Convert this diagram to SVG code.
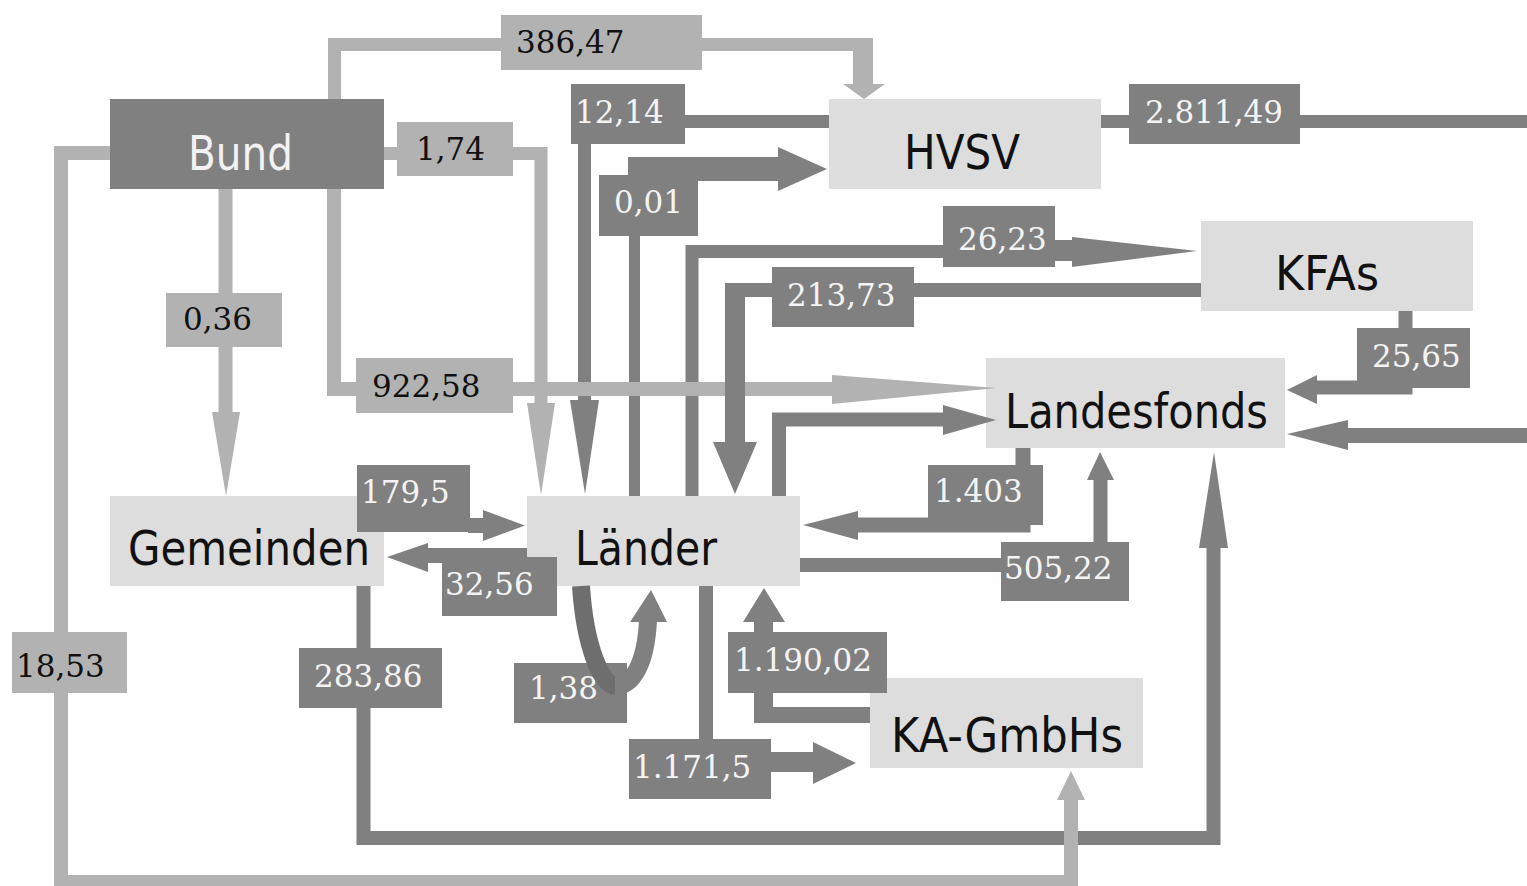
<svg xmlns="http://www.w3.org/2000/svg" width="1527" height="886" viewBox="0 0 1527 886">
<style>
.node{fill:#dddddd}
.bund{fill:#808080}
.nt{font-family:"DejaVu Sans",Verdana,sans-serif;font-size:48px;fill:#111111}
.bt{fill:#f2f2f2}
.d{stroke:#808080;fill:none;stroke-linejoin:miter;stroke-linecap:butt}
.l{stroke:#b2b2b2;fill:none;stroke-linejoin:miter;stroke-linecap:butt}
.df{fill:#808080}
.lf{fill:#b2b2b2}
.num{font-family:"DejaVu Serif",Georgia,serif;font-size:31px}
.w{fill:#f4f4f4}
.k{fill:#111111}
</style>
<rect width="1527" height="886" fill="#ffffff"/>
<g id="nodes">
  <g id="bund"><rect class="bund" x="110" y="99" width="274" height="90"/><text class="nt bt" x="188" y="170" textLength="105" lengthAdjust="spacingAndGlyphs">Bund</text></g>
  <g id="hvsv"><rect class="node" x="829" y="99" width="272" height="90"/><text class="nt" x="904" y="169" textLength="116" lengthAdjust="spacingAndGlyphs">HVSV</text></g>
  <g id="kfas"><rect class="node" x="1201" y="221" width="272" height="90"/><text class="nt" x="1275" y="290" textLength="104" lengthAdjust="spacingAndGlyphs">KFAs</text></g>
  <g id="landesfonds"><rect class="node" x="986" y="358" width="299" height="90"/><text class="nt" x="1005" y="428" textLength="263" lengthAdjust="spacingAndGlyphs">Landesfonds</text></g>
  <g id="gemeinden"><rect class="node" x="110" y="496" width="274" height="90"/><text class="nt" x="128" y="565" textLength="242" lengthAdjust="spacingAndGlyphs">Gemeinden</text></g>
  <g id="laender"><rect class="node" x="527" y="496" width="273" height="90"/><text class="nt" x="575" y="565" textLength="142" lengthAdjust="spacingAndGlyphs">Länder</text></g>
  <g id="kagmbhs"><rect class="node" x="870" y="678" width="273" height="90"/><text class="nt" x="891" y="752" textLength="232" lengthAdjust="spacingAndGlyphs">KA-GmbHs</text></g>
</g>
<g id="connectors">
  <g id="e-12-14">
    <path class="d" stroke-width="13" d="M829 121.5 H584.5 V402"/>
    <polygon class="df" points="570,400 599,400 585,494"/>
    <rect class="df" x="571" y="84" width="114" height="60"/>
    <text class="num w" x="575" y="123">12,14</text>
  </g>
  <g id="e-0-01">
    <path class="d" stroke-width="11" d="M634.5 496 V200"/>
    <rect class="df" x="628" y="157" width="152" height="24"/>
    <polygon class="df" points="778,147 827,169 778,191"/>
    <rect class="df" x="599" y="175" width="99" height="61"/>
    <text class="num w" x="614" y="213">0,01</text>
  </g>
  <g id="e-26-23">
    <path class="d" stroke-width="13" d="M692 496 V251.5 H950"/>
    <rect class="df" x="1050" y="240" width="24" height="21"/>
    <polygon class="df" points="1072,237 1197,251 1072,267"/>
    <rect class="df" x="943" y="206" width="112" height="61"/>
    <text class="num w" x="958" y="250">26,23</text>
  </g>
  <g id="e-1-74">
    <path class="l" stroke-width="13" d="M384 153.5 H541 V405"/>
    <polygon class="lf" points="527,403 555,403 541,495"/>
    <rect class="lf" x="397" y="122" width="116" height="54"/>
    <text class="num k" x="416" y="160">1,74</text>
  </g>
  <g id="e-922-58">
    <path class="l" stroke-width="14" d="M334 189 V389 H834"/>
    <polygon class="lf" points="832,375 997,388 832,404"/>
    <rect class="lf" x="356" y="358" width="157" height="55"/>
    <text class="num k" x="372" y="397">922,58</text>
  </g>
  <g id="e-213-73">
    <path class="d" stroke-width="14" d="M1201 290 H735"/>
    <rect class="df" x="725" y="283" width="20" height="162"/>
    <polygon class="df" points="713,442 757,442 735,494"/>
    <rect class="df" x="772" y="267" width="142" height="60"/>
    <text class="num w" x="787" y="306">213,73</text>
  </g>
  <g id="e-386-47">
    <path class="l" stroke-width="13" d="M334.5 99 V44.5 H860"/>
    <rect class="lf" x="853" y="38" width="20" height="47"/>
    <polygon class="lf" points="843,84 885,84 864,99"/>
    <rect class="lf" x="501" y="15" width="201" height="55"/>
    <text class="num k" x="516" y="53">386,47</text>
  </g>
  <g id="e-0-36">
    <path class="l" stroke-width="14" d="M225.5 189 V414"/>
    <polygon class="lf" points="212,412 240,412 226,496"/>
    <rect class="lf" x="166" y="293" width="116" height="54"/>
    <text class="num k" x="183" y="330">0,36</text>
  </g>
  <g id="e-laender-landesfonds">
    <path class="d" stroke-width="14" d="M779 496 V419.5 H945"/>
    <polygon class="df" points="943,405 996,420 943,435"/>
  </g>
  <g id="e-1-403">
    <path class="d" stroke-width="15" d="M1023 448 V525 H856"/>
    <polygon class="df" points="858,511 803,525 858,540"/>
    <rect class="df" x="928" y="465" width="115" height="60"/>
    <text class="num w" x="934" y="502">1.403</text>
  </g>
  <g id="e-505-22">
    <path class="d" stroke-width="14" d="M800 565 H1100.5 V478"/>
    <polygon class="df" points="1087,480 1100,452 1114,480"/>
    <rect class="df" x="1001" y="542" width="128" height="59"/>
    <text class="num w" x="1004" y="579">505,22</text>
  </g>
  <g id="e-2811-49">
    <path class="d" stroke-width="13" d="M1101 121.5 H1527"/>
    <rect class="df" x="1129" y="84" width="171" height="60"/>
    <text class="num w" x="1145" y="123">2.811,49</text>
    <path class="d" stroke-width="15" d="M1527 435.5 H1346"/>
    <polygon class="df" points="1348,420 1287,434 1348,450"/>
  </g>
  <g id="e-25-65">
    <path class="d" stroke-width="14" d="M1405.5 311 V387.5 H1315"/>
    <polygon class="df" points="1317,375 1287,390 1317,404"/>
    <rect class="df" x="1357" y="328" width="113" height="60"/>
    <text class="num w" x="1372" y="367">25,65</text>
  </g>
  <g id="e-283-86">
    <path class="d" stroke-width="14" d="M363.5 586 V838 H1213.5 V546"/>
    <polygon class="df" points="1199,548 1228,548 1214,452"/>
    <rect class="df" x="299" y="648" width="143" height="60"/>
    <text class="num w" x="314" y="687">283,86</text>
  </g>
  <g id="e-18-53">
    <path class="l" stroke-width="14" d="M110 153 H61 V882 H1071 V798"/>
    <polygon class="lf" points="1057,800 1085,800 1071,771"/>
    <rect class="lf" x="12" y="632" width="115" height="61"/>
    <text class="num k" x="16" y="677">18,53</text>
  </g>
  <g id="e-179-5">
    <rect class="df" x="468" y="518" width="17" height="15"/>
    <polygon class="df" points="483,510 525,525.5 483,541"/>
    <rect class="df" x="357" y="465" width="113" height="67"/>
    <text class="num w" x="361" y="503">179,5</text>
  </g>
  <g id="e-32-56">
    <rect class="df" x="426" y="548" width="101" height="15"/>
    <polygon class="df" points="428,543 387,557 428,572"/>
    <rect class="df" x="442" y="557" width="115" height="59"/>
    <text class="num w" x="445" y="595">32,56</text>
  </g>
  <g id="e-1-171-5">
    <path class="d" stroke-width="14" d="M706 586 V742"/>
    <rect class="df" x="769" y="752" width="46" height="20"/>
    <polygon class="df" points="813,742 856,763 813,784"/>
    <rect class="df" x="629" y="739" width="142" height="60"/>
    <text class="num w" x="633" y="778">1.171,5</text>
  </g>
  <g id="e-1-190-02">
    <path class="d" stroke-width="16" d="M870 715 H754"/>
    <rect class="df" x="754" y="620" width="19" height="103"/>
    <polygon class="df" points="743,622 785,622 764,588"/>
    <rect class="df" x="728" y="632" width="159" height="61"/>
    <text class="num w" x="734" y="671">1.190,02</text>
  </g>
  <g id="e-1-38">
    <rect class="df" x="514" y="663" width="113" height="60"/>
    <text class="num w" x="529" y="699" font-size="30">1,38</text>
    <path stroke="#6e6e6e" fill="none" stroke-width="18" d="M581 586 C585 648 602 686 616 686"/>
    <path class="d" stroke-width="18" d="M615 686 C633 686 646 663 648 620"/>
    <polygon class="df" points="630,622 667,622 651,590"/>
  </g>
</g>
</svg>
